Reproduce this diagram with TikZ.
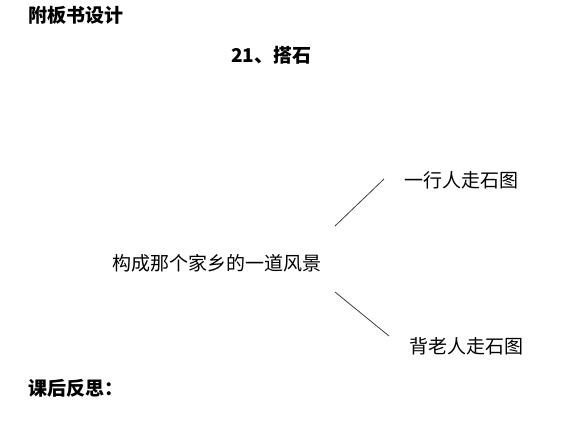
\documentclass[tikz,border=0pt]{standalone}
\usepackage{fontspec}
\newfontfamily\cjk{Noto Sans CJK SC}
\begin{document}
\begin{tikzpicture}[x=1pt,y=-1pt,
  txt/.style={inner sep=0pt,anchor=west,font=\cjk\fontsize{19}{21}\selectfont},
  bold/.style={txt,font=\cjk\bfseries\fontsize{19}{21}\selectfont},
  link/.style={draw=black!75,line width=0.8pt}]
\useasboundingbox[fill=white] (0,0) rectangle (581,421);
\node[bold] (t1) at (28,15) {附板书设计};
\node[bold] (t2) at (231,55) {21、搭石};
\node[txt] (c) at (112,263) {构成那个家乡的一道风景};
\node[txt] (a) at (404,180) {一行人走石图};
\node[txt] (b) at (409,346) {背老人走石图};
\node[bold] (t3) at (28,388) {课后反思：};
\coordinate (l1s) at (335,226);
\coordinate (l1e) at (384,179);
\coordinate (l2s) at (335,292);
\coordinate (l2e) at (389,336);
\draw[link] (l1s) -- (l1e);
\draw[link] (l2s) -- (l2e);
\end{tikzpicture}
\end{document}
